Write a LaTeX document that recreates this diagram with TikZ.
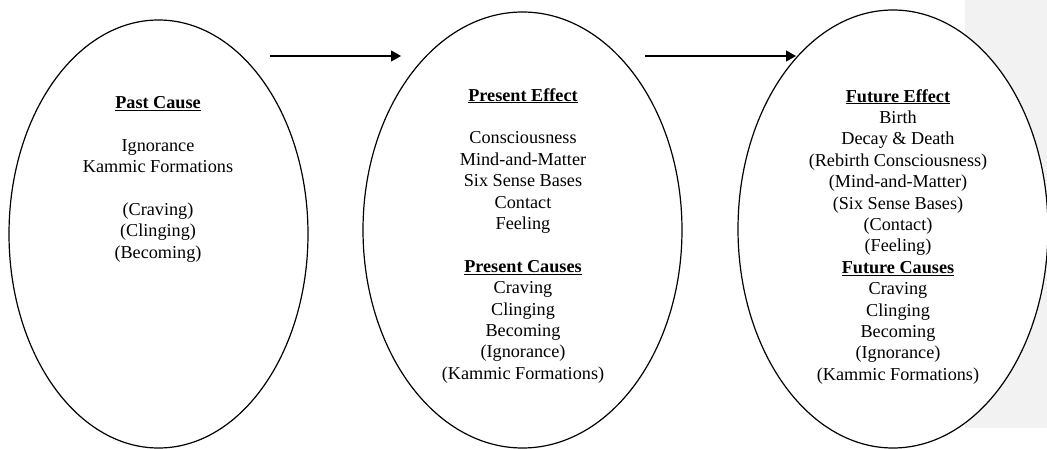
\documentclass[tikz,border=0pt]{standalone}
\usepackage{fontspec}
\setmainfont{Liberation Serif}
\usetikzlibrary{shapes.geometric,arrows.meta}
\definecolor{panelgrey}{HTML}{F2F2F2}
\tikzset{
  stage/.style={ellipse, draw, line width=1.2pt, fill=white, inner sep=0pt},
  stagetext/.style={align=center, anchor=north, inner sep=0pt,
    font=\fontsize{18.2}{21.4}\selectfont},
  flow/.style={line width=1.3pt, -{Triangle[length=10pt,width=11pt]}}
}
\newcommand{\heading}[1]{\underline{\textbf{#1}}}
\begin{document}
\begin{tikzpicture}[x=1pt,y=-1pt]
  \useasboundingbox (0,0) rectangle (1047,449);
  % grey side panel
  \fill[panelgrey] (965,0) rectangle (1047,428);

  % the three stages
  \node[stage, minimum width=299pt, minimum height=428pt] (past) at (158.5,234) {};
  \node[stage, minimum width=319pt, minimum height=436pt] (present) at (522.5,230) {};
  \node[stage, minimum width=310pt, minimum height=438pt] (future) at (893,229) {};

  % texts
  \node[stagetext] (pasttext) at (158,96) {%
    \heading{Past Cause}\\[21.4pt]
    Ignorance\\
    Kammic Formations\\[21.4pt]
    (Craving)\\
    (Clinging)\\
    (Becoming)};
  \node[stagetext] (presenttext) at (523,88) {%
    \heading{Present Effect}\\[21.4pt]
    Consciousness\\
    Mind-and-Matter\\
    Six Sense Bases\\
    Contact\\
    Feeling\\[21.4pt]
    \heading{Present Causes}\\
    Craving\\
    Clinging\\
    Becoming\\
    (Ignorance)\\
    (Kammic Formations)};
  \node[stagetext] (futuretext) at (898,89) {%
    \heading{Future Effect}\\
    Birth\\
    Decay \& Death\\
    (Rebirth Consciousness)\\
    (Mind-and-Matter)\\
    (Six Sense Bases)\\
    (Contact)\\
    (Feeling)\\
    \heading{Future Causes}\\
    Craving\\
    Clinging\\
    Becoming\\
    (Ignorance)\\
    (Kammic Formations)};

  % arrows between stages
  \coordinate (a1s) at (270,56);
  \coordinate (a1e) at (401,56);
  \coordinate (a2s) at (645,56);
  \coordinate (a2e) at (796,56);
  \draw[flow] (a1s) -- (a1e);
  \draw[flow] (a2s) -- (a2e);
\end{tikzpicture}
\end{document}
